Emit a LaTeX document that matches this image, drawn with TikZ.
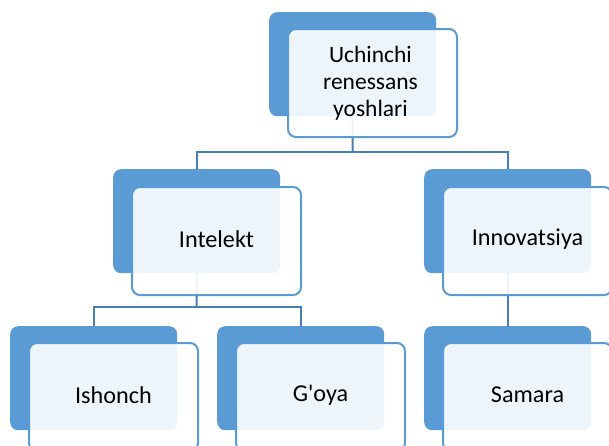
\documentclass[tikz,border=0pt]{standalone}
\usepackage{fontspec}
\setmainfont{Carlito}[Ligatures=TeXOff]
\definecolor{accent}{HTML}{5B9BD5}
\definecolor{linkc}{HTML}{4A7EBB}
\begin{document}
\begin{tikzpicture}[x=1pt,y=-1pt,
  backbox/.style={fill=accent, rounded corners=8pt, minimum width=167pt, minimum height=104pt, inner sep=0pt, anchor=north west},
  frontbox/.style={draw=accent, line width=2pt, fill=white, fill opacity=0.9, rounded corners=8pt, minimum width=169pt, minimum height=108pt, anchor=north west, inner sep=0pt},
  label/.style={font=\fontsize{24.2}{27}\selectfont, align=center, inner sep=0pt, yshift=2pt},
  toplabel/.style={font=\fontsize{23.5}{27}\selectfont, align=center, inner sep=0pt},
  link/.style={draw=linkc, line width=2pt}]
\useasboundingbox (0,0) rectangle (609,445);
\clip (0,0) rectangle (609,445);
% back boxes
\node[backbox] (b0) at (269,12) {};
\node[backbox] (b1) at (113,169) {};
\node[backbox] (b2) at (424,169) {};
\node[backbox] (b3) at (10,326) {};
\node[backbox] (b4) at (217,326) {};
\node[backbox] (b5) at (424,326) {};
% connectors
\coordinate (h1) at (352.5,152);
\coordinate (h2) at (196.5,307);
\draw[link] (b0.south) -- (h1);
\draw[link] (b1.north) |- (h1) -| (b2.north);
\draw[link] (b1.south) -- (h2);
\draw[link] (b3.north) |- (h2) -| (b4.north);
\draw[link] (b2.south) -- (b5.north);
% front boxes
\node[frontbox] (f0) at (287,28) {};
\node[frontbox] (f1) at (131,186) {};
\node[frontbox] (f2) at (442,186) {};
\node[frontbox] (f3) at (28,342) {};
\node[frontbox] (f4) at (235,342) {};
\node[frontbox] (f5) at (442,342) {};
% texts
\node[toplabel] (t0) at ([xshift=-2pt]f0.center) {Uchinchi\\renessans\\yoshlari};
\node[label] (t1) at (f1.center) {Intelekt};
\node[label] (t2) at (f2.center) {Innovatsiya};
\node[label] (t3) at (f3.center) {Ishonch};
\node[label] (t4) at (f4.center) {G'oya};
\node[label] (t5) at (f5.center) {Samara};
\end{tikzpicture}
\end{document}
